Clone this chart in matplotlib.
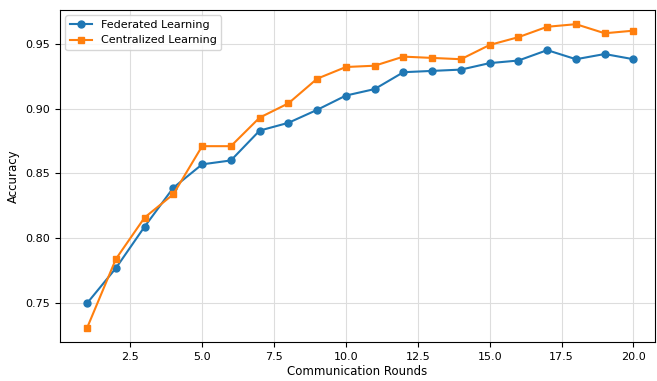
import numpy as np
import matplotlib.pyplot as plt

rounds = np.arange(1, 21)
fed_acc = [0.750, 0.777, 0.809, 0.839, 0.857, 0.860, 0.883, 0.889, 0.899, 0.910,
           0.915, 0.928, 0.929, 0.930, 0.935, 0.937, 0.945, 0.938, 0.942, 0.938]
cen_acc = [0.731, 0.784, 0.816, 0.834, 0.871, 0.871, 0.893, 0.904, 0.923, 0.932,
           0.933, 0.940, 0.939, 0.938, 0.949, 0.955, 0.963, 0.965, 0.958, 0.960]

fig = plt.figure(figsize=(6.57, 3.81), dpi=100)
ax = fig.add_axes([0.091, 0.102, 0.906, 0.872])

ax.plot(rounds, fed_acc, '-o', color='#1f77b4', markersize=5, label='Federated Learning')
ax.plot(rounds, cen_acc, '-s', color='#ff7f0e', markersize=5, label='Centralized Learning')

ax.set_xlim(0.05, 20.75)
ax.set_ylim(0.720, 0.976)
ax.set_xticks([2.5, 5.0, 7.5, 10.0, 12.5, 15.0, 17.5, 20.0])
ax.set_yticks([0.75, 0.80, 0.85, 0.90, 0.95])
ax.tick_params(labelsize=8)
ax.set_xlabel('Communication Rounds', fontsize=8.5, labelpad=2)
ax.set_ylabel('Accuracy', fontsize=8.5)
ax.grid(True, color='#dddddd', linewidth=0.8)
ax.legend(loc='upper left', fontsize=8)

plt.savefig('out.png', dpi=100)
